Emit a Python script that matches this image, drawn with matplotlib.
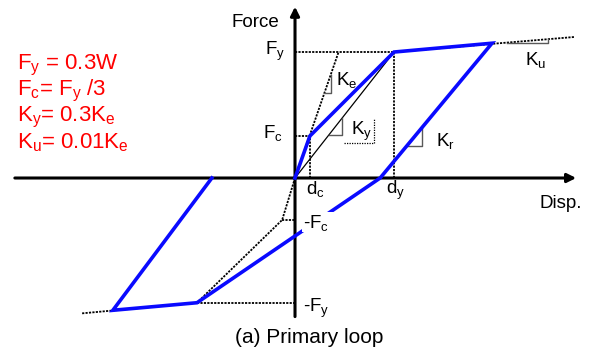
import numpy as np
import matplotlib
matplotlib.use('Agg')
import matplotlib.pyplot as plt

plt.rcParams['font.family'] = ['Liberation Sans', 'DejaVu Sans']
plt.rcParams['mathtext.fontset'] = 'custom'
plt.rcParams['mathtext.rm'] = 'Liberation Sans'
plt.rcParams['mathtext.it'] = 'Liberation Sans'

# displacement in units of d_y, force in units of F_y
d_c, F_c = 0.15, 1.0 / 3
d_y, F_y = 1.0, 1.0

# hysteresis path (blue)
loop_d = [0.0, 0.15, 1.0, 1.99, 0.86, -0.99, -1.84, -0.84]
loop_f = [0.0, 0.333, 1.0, 1.07, 0.0, -0.99, -1.05, 0.0]

# negative primary branch (dotted)
neg_d = [0.0, -0.13, -0.99]
neg_f = [0.0, -0.333, -0.99]

# post-yield (K_u) extensions
ku_pos_d = [1.0, 2.83]
ku_pos_f = [1.0, 1.12]
ku_neg_d = [-0.99, -2.16]
ku_neg_f = [-0.99, -1.075]

# initial stiffness line K_e
ke_d = [0.0, 0.44]
ke_f = [0.0, 1.0]

blue = '#0a0aff'
dot = dict(color='k', lw=1.3, ls=(0, (1.2, 0.7)))

fig = plt.figure(figsize=(5.92, 3.54), dpi=100)
ax = fig.add_axes([0, 0, 1, 1])
ax.set_xlim(-2.98, 3.0)
ax.set_ylim(-1.397, 1.413)
ax.axis('off')

# axes with arrows
ax.annotate('', xy=(0, 1.36), xytext=(0, -1.10),
            arrowprops=dict(arrowstyle='-|>', lw=2.2, color='k',
                            mutation_scale=13, shrinkA=0, shrinkB=0))
ax.annotate('', xy=(2.84, 0), xytext=(-2.83, 0),
            arrowprops=dict(arrowstyle='-|>', lw=2.2, color='k',
                            mutation_scale=13, shrinkA=0, shrinkB=0))

# guide lines
ax.plot([0, d_y], [F_y, F_y], **dot)
ax.plot([d_y, d_y], [0, F_y], **dot)
ax.plot([0, d_c], [F_c, F_c], **dot)
ax.plot([d_c, d_c], [0, F_c], **dot)
ax.plot([neg_d[1], 0], [neg_f[1], neg_f[1]], **dot)
ax.plot([neg_d[2], 0], [neg_f[2], neg_f[2]], **dot)
ax.plot(neg_d, neg_f, **dot)
ax.plot(ke_d, ke_f, **dot)
ax.plot(ku_pos_d, ku_pos_f, **dot)
ax.plot(ku_neg_d, ku_neg_f, **dot)
# secant stiffness K_y
ax.plot([0, d_y], [0, F_y], color='k', lw=0.9)

# hysteresis loop
ax.plot(loop_d, loop_f, color=blue, lw=2.6, solid_joinstyle='miter', zorder=3)


def slope_mark(x1, y_at, kslope, x0):
    # small right triangle under a line of slope kslope
    y0 = y_at
    x_h = x0
    ax.plot([x_h, x1, x1], [y0, y0, y0 + kslope * (x1 - x_h)],
            color='0.35', lw=1.0, zorder=2)


ke_slope = ke_f[1] / ke_d[1]
slope_mark(0.36, 0.675, ke_slope, 0.675 / ke_slope)
slope_mark(0.475, 0.341, 1.0, 0.341)
kr_slope = loop_f[3] / (loop_d[3] - loop_d[4])
slope_mark(1.283, 0.254, kr_slope, loop_d[4] + 0.254 / kr_slope)
ku_slope = (ku_pos_f[1] - ku_pos_f[0]) / (ku_pos_d[1] - ku_pos_d[0])
y_ku = ku_pos_f[0] + ku_slope * (2.14 - ku_pos_d[0])
slope_mark(2.56, y_ku, ku_slope, 2.14)

# dotted box around K_y
ax.plot([0.495, 0.80, 0.80], [0.278, 0.278, 0.476], color='k', lw=0.9,
        ls=(0, (1.0, 1.0)))

# white patch behind the -F_c label
ax.add_patch(plt.Rectangle((0.07, -0.43), 0.32, 0.16, facecolor='white',
                           edgecolor='none', zorder=4))

fs = 13.5
ax.text(-0.16, 1.198, 'Force', fontsize=fs, ha='right', va='baseline')
ax.text(2.47, -0.235, 'Disp.', fontsize=fs, ha='left', va='baseline')
ax.text(-0.10, 0.976, 'F$_y$', fontsize=fs, ha='right', va='baseline')
ax.text(-0.12, 0.317, 'F$_c$', fontsize=fs, ha='right', va='baseline')
ax.text(0.11, -0.127, 'd$_c$', fontsize=fs, ha='left', va='baseline')
ax.text(0.92, -0.127, 'd$_y$', fontsize=fs, ha='left', va='baseline')
ax.text(0.08, -0.40, '-F$_c$', fontsize=fs, ha='left', va='baseline', zorder=5)
ax.text(0.08, -1.06, '-F$_y$', fontsize=fs, ha='left', va='baseline')
ax.text(0.41, 0.738, 'K$_e$', fontsize=fs, ha='left', va='baseline')
ax.text(0.566, 0.341, 'K$_y$', fontsize=fs, ha='left', va='baseline')
ax.text(1.42, 0.254, 'K$_r$', fontsize=fs, ha='left', va='baseline')
ax.text(2.32, 0.897, 'K$_u$', fontsize=fs, ha='left', va='baseline')
ax.text(0.14, -1.31, '(a) Primary loop', fontsize=15, ha='center',
        va='baseline')

red_lines = ['F$_y$ = 0.3W', 'F$_c$= F$_y$ /3', 'K$_y$= 0.3K$_e$',
             'K$_u$= 0.01K$_e$']
for i, s in enumerate(red_lines):
    ax.text(-2.81, (178 - 69 - 26.4 * i) / 126.0, s, fontsize=16,
            color='#ff0000', ha='left', va='baseline')

fig.savefig('out.png', dpi=100)
